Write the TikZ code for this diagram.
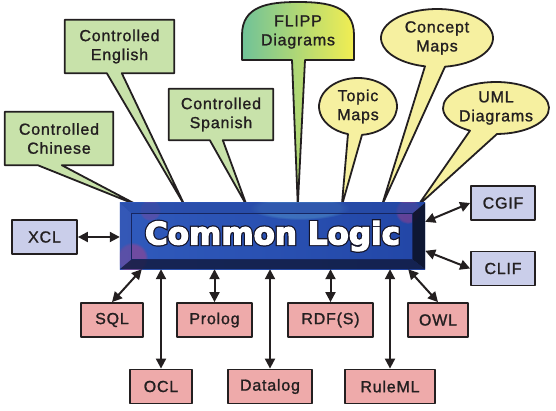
\documentclass[tikz,border=0pt]{standalone}
\usepackage{fontspec}
\setmainfont{Liberation Sans}
\newfontfamily\labelfont[LetterSpace=5,FakeBold=1.2]{Liberation Sans}
\newfontfamily\titlefont{DejaVu Sans}
\usetikzlibrary{arrows.meta,calc,backgrounds,fadings}

\definecolor{inkdark}{RGB}{35,31,32}
\definecolor{langgreen}{RGB}{200,226,170}
\definecolor{mapyellow}{RGB}{246,240,160}
\definecolor{fmtblue}{RGB}{202,206,234}
\definecolor{langpink}{RGB}{238,170,170}
\definecolor{flippgreen}{RGB}{112,194,152}
\definecolor{flippyellow}{RGB}{242,238,82}
\definecolor{faceleft}{RGB}{48,90,188}
\definecolor{faceright}{RGB}{34,70,166}
\definecolor{beveltop}{RGB}{40,74,164}
\definecolor{bevelleft}{RGB}{58,86,176}
\definecolor{bevelright}{RGB}{12,18,40}
\definecolor{bevelbottom}{RGB}{18,28,66}
\definecolor{faceline}{RGB}{22,38,96}
\definecolor{cloudpink}{RGB}{190,60,130}
\definecolor{cloudcyan}{RGB}{110,190,220}

% white letters with a dark rim
\newcommand\rimtext[1]{\rlap{\color{inkdark}\special{pdf:literal 2 Tr 3.6 w 0.08 0.08 0.16 RG}#1}%
    \special{pdf:literal 2 Tr 1.2 w 1 1 1 RG}#1\special{pdf:literal 0 Tr}}

\tikzset{
    boxline/.style={draw=inkdark, line width=1.8pt, line join=round},
    lbl/.style={font=\labelfont\fontsize{16}{19}\selectfont, text=inkdark, align=center, inner sep=0pt},
    fmtbox/.style={boxline, lbl, fill=fmtblue, minimum width=64pt, minimum height=34pt},
    langbox/.style={boxline, lbl, fill=langpink, minimum height=34pt},
    greenballoon/.style={boxline, fill=langgreen},
    yellowballoon/.style={boxline, fill=mapyellow},
    twoway/.style={{Triangle[length=10pt,width=10pt]}-{Triangle[length=10pt,width=10pt]}, draw=inkdark, line width=2pt},
}

\begin{document}
\begin{tikzpicture}[x=1pt, y=-1pt]
    \useasboundingbox (0,0) rectangle (556,411);

    % centre
    \node[text=white, minimum width=305pt, minimum height=66pt, inner sep=0pt,
          font=\titlefont\bfseries\fontsize{31}{31}\selectfont] (cl) at (272.5,236) {\rimtext{Common Logic}};

    % balloon texts
    \node[lbl, minimum width=108pt, minimum height=53pt] (chinese) at (59,138.5) {Controlled\\Chinese};
    \node[lbl, minimum width=109pt, minimum height=53pt] (english) at (119.5,46.5) {Controlled\\English};
    \node[lbl, minimum width=104pt, minimum height=51pt] (spanish) at (221,114.5) {Controlled\\Spanish};
    \node[lbl] (flipp) at (298,32) {FLIPP\\Diagrams};
    \node[lbl] (topic) at (358,106.5) {Topic\\Maps};
    \node[lbl] (concept) at (437,38) {Concept\\Maps};
    \node[lbl] (uml) at (496,108) {UML\\Diagrams};

    \coordinate (tipchinese) at ($(cl.north west)+(19,3)$);
    \coordinate (tipenglish) at ($(cl.north west)+(65,3)$);
    \coordinate (tipspanish) at ($(cl.north west)+(127,3)$);
    \coordinate (tipflipp) at ($(cl.north west)+(178,3)$);
    \coordinate (tiptopic) at ($(cl.north west)+(222,3)$);
    \coordinate (tipconcept) at ($(cl.north west)+(262,3)$);
    \coordinate (tipuml) at ($(cl.north west)+(298,3)$);

    % formats
    \node[fmtbox, minimum width=65pt] (xcl) at (44.5,237) {XCL};
    \node[fmtbox] (cgif) at (503,203) {CGIF};
    \node[fmtbox] (clif) at (503,268.5) {CLIF};

    \node[langbox, minimum width=62pt] (sql) at (112,320) {SQL};
    \node[langbox, minimum width=75pt] (prolog) at (214.5,320) {Prolog};
    \node[langbox, minimum width=85pt] (rdfs) at (330.5,320) {RDF(S)};
    \node[langbox, minimum width=60pt] (owl) at (438,320) {OWL};
    \node[langbox, minimum width=62pt] (ocl) at (161,386.5) {OCL};
    \node[langbox, minimum width=84pt] (datalog) at (270,386.5) {Datalog};
    \node[langbox, minimum width=90pt] (ruleml) at (390,386.5) {RuleML};

    \begin{pgfonlayer}{background}
        % balloons
        \draw[greenballoon] (chinese.south west) -- (chinese.north west) -- (chinese.north east) -- (chinese.south east)
            -- ($(chinese.south west)+(57,0)$) -- (tipchinese) -- ($(chinese.south west)+(33,0)$) -- cycle;
        \draw[greenballoon] (english.south west) -- (english.north west) -- (english.north east) -- (english.south east)
            -- ($(english.south west)+(57,0)$) -- (tipenglish) -- ($(english.south west)+(42,0)$) -- cycle;
        \draw[greenballoon] (spanish.south west) -- (spanish.north west) -- (spanish.north east) -- (spanish.south east)
            -- ($(spanish.south west)+(54,0)$) -- (tipspanish) -- ($(spanish.south west)+(41,0)$) -- cycle;
        \draw[boxline, left color=flippgreen, right color=flippyellow]
            (242,60) -- (242,35) .. controls (242,6) and (268,2) .. (298,2)
            .. controls (328,2) and (354,6) .. (354,35) -- (354,60)
            -- (305,60) -- (tipflipp) -- (292,60) -- cycle;
        \draw[yellowballoon] (tiptopic) -- ($(topic)+(84.1:39 and 28.5)$)
            arc[start angle=84.1, end angle=-255.1, x radius=39, y radius=28.5] -- cycle;
        \draw[yellowballoon] (tipconcept) -- ($(concept)+(81.8:56 and 29)$)
            arc[start angle=81.8, end angle=-257.6, x radius=56, y radius=29] -- cycle;
        \draw[yellowballoon] (tipuml) -- ($(uml)+(88.9:53 and 26)$)
            arc[start angle=88.9, end angle=-240.6, x radius=53, y radius=26] -- cycle;

        % the box
        \shade[left color=faceleft, right color=faceright] (cl.north west) rectangle (cl.south east);
        \begin{scope}
            \clip (cl.north west) rectangle (cl.south east);
            \fill[cloudcyan, opacity=0.3, path fading=circle with fuzzy edge 20 percent] (300,208) ellipse[x radius=50, y radius=12];
            \fill[cloudpink, opacity=0.45, path fading=circle with fuzzy edge 20 percent] (132,258) circle (16);
            \fill[cloudpink, opacity=0.4, path fading=circle with fuzzy edge 20 percent] (408,211) circle (13);
            \fill[cloudpink, opacity=0.25, path fading=circle with fuzzy edge 20 percent] (150,210) circle (11);
        \end{scope}
        \fill[beveltop, opacity=0.6] (cl.north west) -- (cl.north east) -- ($(cl.north east)+(-13,11)$) -- ($(cl.north west)+(12,11)$) -- cycle;
        \fill[bevelleft, opacity=0.4] (cl.north west) -- ($(cl.north west)+(12,11)$) -- ($(cl.south west)+(12,-10)$) -- (cl.south west) -- cycle;
        \fill[bevelright, opacity=0.9] (cl.north east) -- (cl.south east) -- ($(cl.south east)+(-13,-10)$) -- ($(cl.north east)+(-13,11)$) -- cycle;
        \fill[bevelbottom, opacity=0.85] (cl.south west) -- (cl.south east) -- ($(cl.south east)+(-13,-10)$) -- ($(cl.south west)+(12,-10)$) -- cycle;
        \draw[faceline, line width=0.8pt] ($(cl.north west)+(12,11)$) rectangle ($(cl.south east)+(-13,-10)$);
    \end{pgfonlayer}

    % links
    \draw[twoway] (xcl) -- (xcl -| cl.west);
    \draw[twoway] (cgif.west) -- ($(cl.north east)+(0,19)$);
    \draw[twoway] (clif.west) -- ($(cl.north east)+(0,48)$);
    \draw[twoway] (sql.north) -- ($(cl.south west)+(22,0)$);
    \draw[twoway] (ocl) -- (ocl |- cl.south);
    \draw[twoway] (prolog) -- (prolog |- cl.south);
    \draw[twoway] (datalog) -- (datalog |- cl.south);
    \draw[twoway] (rdfs) -- (rdfs |- cl.south);
    \draw[twoway] (ruleml) -- (ruleml |- cl.south);
    \draw[twoway] (owl.north) -- ($(cl.south east)+(-17,0)$);
\end{tikzpicture}
\end{document}
